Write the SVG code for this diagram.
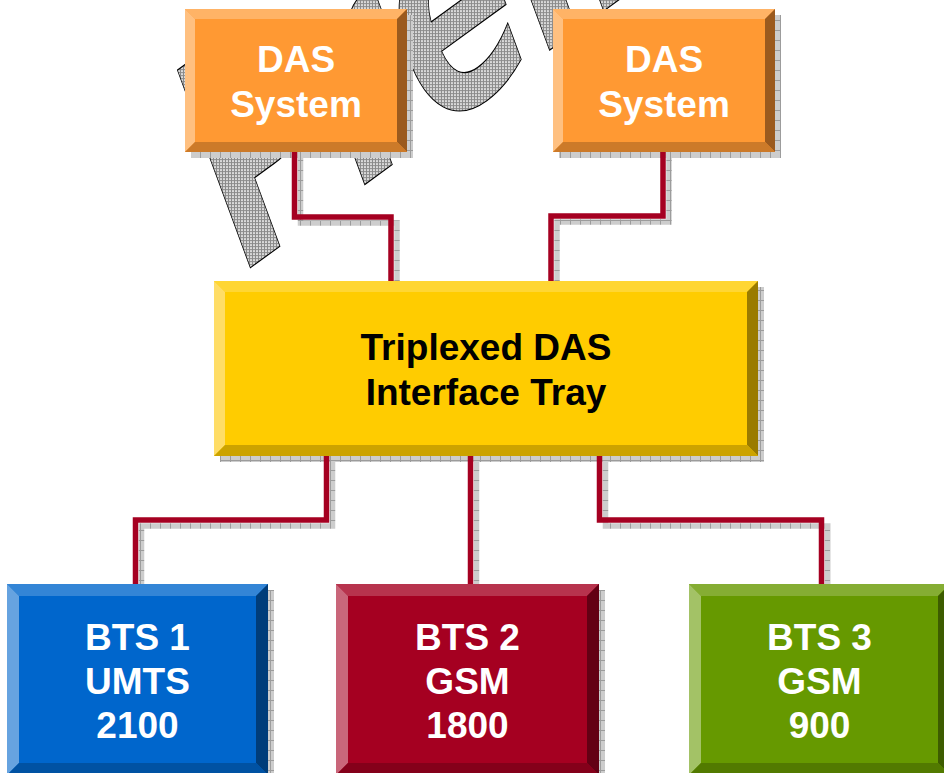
<svg xmlns="http://www.w3.org/2000/svg" width="944" height="773" viewBox="0 0 944 773">
<style>
.t{font-family:"Liberation Sans",Arial,sans-serif;font-weight:bold;font-size:37px;text-anchor:middle}
.w{fill:#ffffff}
.k{fill:#000000}
.line{fill:none;stroke:#a50021;stroke-width:5.5;stroke-linejoin:miter;stroke-linecap:butt}
.lsh{fill:none;stroke:url(#sh);stroke-width:5.5;stroke-linejoin:miter;stroke-linecap:butt}
.shadow{fill:url(#sh)}
</style>
<defs>
<pattern id="sh" width="10" height="10" patternUnits="userSpaceOnUse">
<rect width="10" height="10" fill="#cdcdcd"/>
<path d="M0 0.5H10M0.5 0V10" stroke="#9c9c9c" stroke-width="1"/>
</pattern>
<pattern id="wm" width="3" height="3" patternUnits="userSpaceOnUse" patternTransform="matrix(0.4997 0.2114 -0.1843 0.2909 -66.54 -130.81)">
<rect width="3" height="3" fill="#dadada"/>
<path d="M0 0.5H3M0.5 0V3" stroke="#8a8a8a" stroke-width="1"/>
</pattern>
</defs>
<rect width="944" height="773" fill="#ffffff"/>

<g id="watermark">
<text transform="matrix(1.578 -1.147 1.0 2.711 235.8 278.3)" x="0" y="0" font-family="DejaVu Sans, sans-serif" font-weight="bold" font-size="100" fill="url(#wm)" stroke="#000000" stroke-width="1" vector-effect="non-scaling-stroke">Preliminary</text>
</g>

<g id="das1">
<rect class="shadow" x="191" y="15" width="222" height="143"/>
<rect x="185" y="9" width="222" height="143" fill="#ff9933"/>
<polygon points="185,9 407,9 397,19 195,19" fill="#ffb366"/>
<polygon points="185,9 195,19 195,142 185,152" fill="#ffc080"/>
<polygon points="407,9 407,152 397,142 397,19" fill="#9b5a1e"/>
<polygon points="185,152 407,152 397,142 195,142" fill="#cc7a29"/>
<text class="t w" x="296" y="72">DAS</text>
<text class="t w" x="296" y="117">System</text>
</g>

<g id="das2">
<rect class="shadow" x="559" y="15" width="222" height="143"/>
<rect x="553" y="9" width="222" height="143" fill="#ff9933"/>
<polygon points="553,9 775,9 765,19 563,19" fill="#ffb366"/>
<polygon points="553,9 563,19 563,142 553,152" fill="#ffc080"/>
<polygon points="775,9 775,152 765,142 765,19" fill="#9b5a1e"/>
<polygon points="553,152 775,152 765,142 563,142" fill="#cc7a29"/>
<text class="t w" x="664" y="72">DAS</text>
<text class="t w" x="664" y="117">System</text>
</g>

<g id="tray">
<rect class="shadow" x="220" y="287" width="544" height="175"/>
<rect x="214" y="281" width="544" height="175" fill="#ffcc00"/>
<polygon points="214,281 758,281 747,292 225,292" fill="#ffd633"/>
<polygon points="214,281 225,292 225,445 214,456" fill="#ffdd66"/>
<polygon points="758,281 758,456 747,445 747,292" fill="#9a7b00"/>
<polygon points="214,456 758,456 747,445 225,445" fill="#cca300"/>
<text class="t k" x="486" y="360">Triplexed DAS</text>
<text class="t k" x="486" y="405">Interface Tray</text>
</g>

<g id="bts1">
<rect class="shadow" x="13" y="590" width="261" height="191"/>
<rect x="7" y="584" width="261" height="191" fill="#0066cc"/>
<polygon points="7,584 268,584 256,596 19,596" fill="#3385d6"/>
<polygon points="7,584 19,596 19,763 7,775" fill="#66a3e0"/>
<polygon points="268,584 268,775 256,763 256,596" fill="#003d7a"/>
<polygon points="7,775 268,775 256,763 19,763" fill="#0052a3"/>
<text class="t w" x="137.5" y="650">BTS 1</text>
<text class="t w" x="137.5" y="694">UMTS</text>
<text class="t w" x="137.5" y="738">2100</text>
</g>

<g id="bts2">
<rect class="shadow" x="342" y="590" width="263" height="191"/>
<rect x="336" y="584" width="263" height="191" fill="#a50021"/>
<polygon points="336,584 599,584 587,596 348,596" fill="#b7334d"/>
<polygon points="336,584 348,596 348,763 336,775" fill="#c9667a"/>
<polygon points="599,584 599,775 587,763 587,596" fill="#630014"/>
<polygon points="336,775 599,775 587,763 348,763" fill="#84001a"/>
<text class="t w" x="467.5" y="650">BTS 2</text>
<text class="t w" x="467.5" y="694">GSM</text>
<text class="t w" x="467.5" y="738">1800</text>
</g>

<g id="bts3">
<rect class="shadow" x="695" y="590" width="261" height="191"/>
<rect x="689" y="584" width="261" height="191" fill="#669900"/>
<polygon points="689,584 950,584 938,596 701,596" fill="#85ad33"/>
<polygon points="689,584 701,596 701,763 689,775" fill="#a3c266"/>
<polygon points="950,584 950,775 938,763 938,596" fill="#3d5c00"/>
<polygon points="689,775 950,775 938,763 701,763" fill="#527a00"/>
<text class="t w" x="819.5" y="650">BTS 3</text>
<text class="t w" x="819.5" y="694">GSM</text>
<text class="t w" x="819.5" y="738">900</text>
</g>

<g id="connectors">
<path class="lsh" d="M300.5 152V223H397V281"/>
<path class="lsh" d="M669 152V222H557V281"/>
<path class="lsh" d="M332.5 456V526H141.5V584"/>
<path class="lsh" d="M476.5 456V584"/>
<path class="lsh" d="M605.5 456V526H827.5V584"/>
<path class="line" d="M294.5 152V217H391V281"/>
<path class="line" d="M663 152V216H551V281"/>
<path class="line" d="M326.5 456V520H135.5V584"/>
<path class="line" d="M470.5 456V584"/>
<path class="line" d="M599.5 456V520H821.5V584"/>
</g>
</svg>
